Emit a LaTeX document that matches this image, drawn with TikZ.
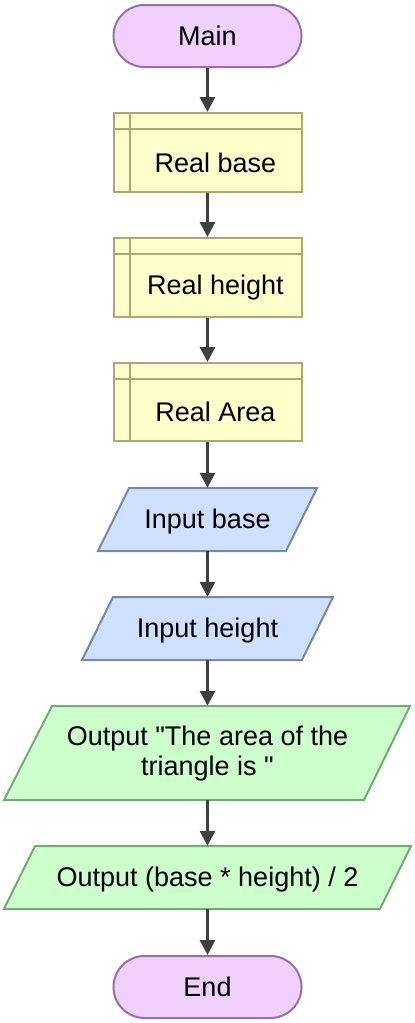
\documentclass[tikz,border=0pt]{standalone}
\usepackage{fontspec}
\setmainfont{Liberation Sans}[Ligatures=TeXOff]
\usetikzlibrary{arrows.meta,calc}
\definecolor{termfill}{HTML}{EED0FA}
\definecolor{termborder}{HTML}{9A70A8}
\definecolor{declfill}{HTML}{FFFFCC}
\definecolor{declborder}{HTML}{A8A878}
\definecolor{infill}{HTML}{CFE0FF}
\definecolor{inborder}{HTML}{7888A8}
\definecolor{outfill}{HTML}{CCFFCC}
\definecolor{outborder}{HTML}{78A878}
\definecolor{arrowcol}{HTML}{404040}
\tikzset{
  txt/.style={font=\fontsize{27}{30}\selectfont, text=black, align=center},
  term/.style={txt, draw=termborder, fill=termfill, line width=2pt, rounded corners=31pt,
    minimum width=188pt, minimum height=62pt, inner sep=0pt},
  decl/.style={draw=declborder, fill=declfill, line width=2pt,
    minimum width=188pt, minimum height=79pt, inner sep=0pt,
    path picture={
      \draw[declborder, line width=2pt]
        ([yshift=-16pt]path picture bounding box.north west) -- ([yshift=-16pt]path picture bounding box.north east)
        ([xshift=16pt]path picture bounding box.north west) -- ([xshift=16pt]path picture bounding box.south west);
    }},
  declabel/.style={txt, xshift=8pt, yshift=-10pt},
  inshape/.style={draw=inborder, fill=infill, line width=2pt},
  outshape/.style={draw=outborder, fill=outfill, line width=2pt},
  iobox/.style={txt, inner sep=0pt, minimum width=150pt},
  flow/.style={draw=arrowcol, line width=3pt, -{Triangle[length=15pt,width=15pt]}}
}
\begin{document}
\begin{tikzpicture}[x=1pt,y=-1pt]
\useasboundingbox (0,0) rectangle (415,1023);

% terminals and declarations
\node[term] (main) at (207.5,36) {Main};
\node[decl, label={[declabel]center:Real base}] (d1) at (207.5,152.5) {};
\node[decl, label={[declabel]center:Real height}] (d2) at (207.5,277.5) {};
\node[decl, minimum height=78pt, label={[declabel]center:Real Area}] (d3) at (207.5,402) {};

% input parallelograms
\filldraw[inshape] (129,488) -- (317,488) -- (286,551) -- (98,551) -- cycle;
\node[iobox, minimum height=63pt, label={[txt, yshift=-2pt]center:Input base}] (in1) at (207.5,519.5) {};
\filldraw[inshape] (113,597) -- (333,597) -- (302,660) -- (82,660) -- cycle;
\node[iobox, minimum height=63pt, label={[txt, yshift=-2pt]center:Input height}] (in2) at (207.5,628.5) {};

% output parallelograms
\filldraw[outshape] (52,706) -- (410,706) -- (364,800) -- (4,800) -- cycle;
\node[iobox, minimum height=94pt, label={[txt, yshift=-1pt]center:Output "The area of the\\triangle is "}] (out1) at (207.5,753) {};
\filldraw[outshape] (35,846) -- (411,846) -- (380,909) -- (4,909) -- cycle;
\node[iobox, minimum height=63pt, label={[txt, yshift=-2pt]center:Output (base * height) / 2}] (out2) at (207.5,877.5) {};

\node[term] (end) at (207.5,987) {End};

% connectors
\draw[flow] (main.south) -- (d1.north);
\draw[flow] (d1.south) -- (d2.north);
\draw[flow] (d2.south) -- (d3.north);
\draw[flow] (d3.south) -- (in1.north);
\draw[flow] (in1.south) -- (in2.north);
\draw[flow] (in2.south) -- (out1.north);
\draw[flow] (out1.south) -- (out2.north);
\draw[flow] (out2.south) -- (end.north);
\end{tikzpicture}
\end{document}
